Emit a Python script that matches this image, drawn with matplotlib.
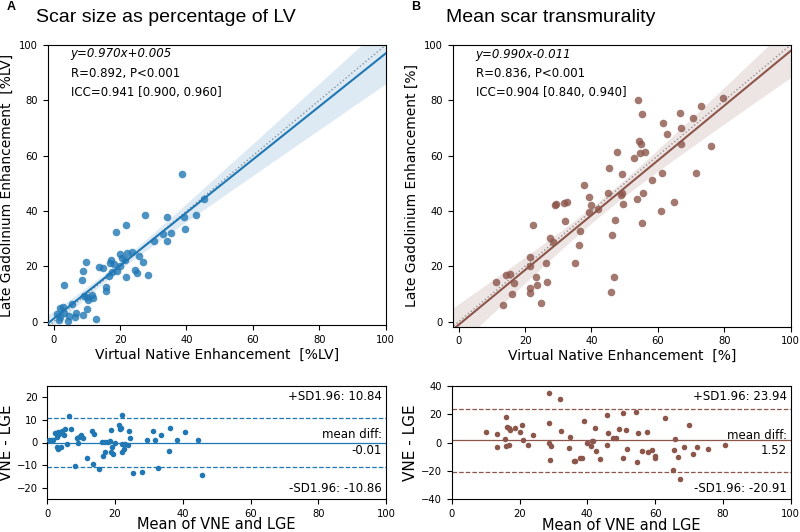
import numpy as np
import matplotlib
matplotlib.use("Agg")
import matplotlib.pyplot as plt

# ---------------- data ----------------
# Panel A: scar size as % LV
vne_a = [38.7, 45.4, 27.5, 34.1, 39.2, 43.0, 18.9, 21.8, 32.8, 35.2, 39.5, 30.2, 34.0,
         20.1, 20.7, 22.1, 23.5, 25.7, 21.6, 17.3, 16.9, 18.1, 19.9, 26.8, 9.8, 8.8,
         13.7, 14.9, 19.1, 24.6, 25.1, 17.6, 16.6, 21.7, 28.4, 8.4, 3.2, 15.9, 15.7,
         9.0, 10.3, 11.5, 11.8, 10.0, 5.5, 1.8, 2.8, 10.1, 6.8, 8.7, 6.4, 4.5, 3.0,
         2.0, 1.5, 4.3, 12.8, 1.0]
lge_a = [53.2, 44.2, 38.6, 38.0, 38.0, 38.6, 32.3, 35.1, 31.6, 32.2, 33.4, 29.2, 29.2,
         24.3, 22.9, 24.7, 25.1, 23.9, 22.3, 22.3, 21.3, 20.8, 20.1, 21.7, 21.4, 18.3,
         19.6, 19.3, 18.4, 18.7, 17.7, 17.8, 16.5, 16.3, 16.7, 15.1, 13.4, 12.4, 11.2,
         9.4, 7.8, 9.6, 8.7, 8.8, 6.3, 4.8, 5.2, 4.6, 3.3, 2.5, 1.8, 2.0, 3.3,
         1.8, 0.6, 0.2, 1.0, 2.8]

ba_mean_a = [0.5, 1.0, 1.8, 2.2, 2.8, 3.2, 3.5, 3.0, 3.3, 3.9, 4.3, 4.9, 5.3, 5.7, 6.5,
             7.0, 8.1, 8.7, 9.2, 9.4, 10.0, 10.6, 11.6, 13.2, 13.8, 13.4, 15.4, 16.1,
             16.9, 16.3, 16.9, 17.9, 18.5, 18.7, 18.8, 19.1, 19.5, 19.9, 21.1, 21.5,
             21.7, 22.0, 22.2, 22.0, 22.6, 23.0, 23.8, 24.0, 24.4, 25.2, 28.1, 29.3,
             31.3, 31.9, 32.7, 33.5, 35.8, 36.2, 38.2, 40.6, 44.5, 45.6]
ba_diff_a = [1.0, 1.3, 1.3, 4.3, 2.5, 4.6, 3.6, -1.9, -3.0, -2.2, 5.0, 3.4, 5.8, -0.7,
             11.7, 5.8, -10.2, 2.2, -0.1, 2.5, 3.1, 1.9, -6.7, 4.9, 3.7, -9.6, -11.7,
             0.3, 0.1, -6.1, -4.3, 0.4, 0.6, 5.5, -4.3, -1.9, -4.9, -0.1, 7.6, 5.8,
             6.4, -0.6, 12.0, -4.0, -2.8, -0.7, -1.3, 5.2, 1.8, -13.5, -13.2, 1.0,
             5.0, 1.3, -11.1, 3.1, -3.9, 6.2, 1.0, 4.6, 1.0, -14.4]
ba_stats_a = {"mean": -0.01, "upper": 10.84, "lower": -10.86}
ann_a = ["y=0.970x+0.005", "R=0.892, P<0.001", "ICC=0.941 [0.900, 0.960]"]

# Panel B: mean scar transmurality
vne_b = [54.0, 55.1, 79.5, 72.9, 66.8, 70.7, 61.4, 66.9, 62.8, 54.2, 54.8, 66.9, 75.9,
         47.6, 54.5, 56.2, 52.7, 45.2, 49.1, 61.2, 71.4, 58.1, 37.7, 39.4, 45.0, 48.9,
         49.2, 55.6, 53.8, 64.9, 29.3, 29.0, 31.6, 32.6, 39.8, 42.0, 39.4, 49.4, 60.8,
         32.1, 47.2, 55.2, 22.3, 36.6, 46.3, 27.4, 28.5, 36.1, 21.4, 21.6, 26.4, 35.1,
         11.2, 14.3, 15.5, 16.7, 23.3, 26.6, 23.6, 21.4, 21.5, 16.1, 13.5, 24.8,
         46.8, 45.9]
lge_b = [80.2, 74.9, 81.0, 77.8, 75.3, 73.5, 71.7, 70.1, 67.9, 65.3, 64.3, 64.3, 63.5,
         61.2, 61.0, 61.4, 59.0, 55.5, 53.3, 53.7, 53.7, 51.3, 49.3, 45.1, 46.4, 45.8,
         46.6, 46.6, 44.3, 43.4, 42.4, 42.2, 43.0, 43.4, 42.2, 40.8, 39.8, 42.4, 40.0,
         36.3, 36.7, 35.8, 34.9, 32.8, 31.2, 30.1, 28.7, 27.7, 23.4, 20.0, 21.1, 21.4,
         14.5, 17.0, 17.3, 14.1, 16.3, 14.2, 13.1, 12.3, 10.2, 10.1, 6.1, 6.7,
         16.1, 10.6]

ba_mean_b = [10.1, 13.3, 13.3, 16.0, 15.8, 16.2, 16.8, 17.2, 16.0, 16.8, 18.6, 20.2,
             20.8, 21.1, 22.6, 24.1, 28.6, 28.6, 28.8, 29.2, 29.0, 31.8, 32.3, 34.5,
             34.9, 36.1, 36.5, 37.7, 38.3, 38.9, 39.8, 41.3, 41.1, 41.8, 42.6, 42.4,
             43.8, 45.7, 46.0, 45.9, 47.7, 48.5, 49.4, 50.6, 50.6, 51.4, 51.6, 54.3,
             54.6, 55.0, 56.1, 57.6, 58.0, 59.1, 60.0, 60.1, 62.8, 65.4, 65.6, 65.9,
             66.9, 67.4, 68.6, 69.9, 71.3, 72.3, 75.6, 80.5]
ba_diff_b = [7.3, 6.1, -3.3, 17.9, 2.4, 11.3, 10.1, 8.9, -2.4, -1.9, 10.4, 7.3, 12.5,
             1.9, -1.9, 5.2, 35.3, 13.6, 0.0, -2.4, -12.2, 30.8, 8.5, -4.0, 4.0, -12.9,
             -12.7, -11.1, -10.6, 15.3, -0.5, 0.9, -2.6, 1.4, -5.6, 10.6, -11.5, 19.5,
             7.1, -1.4, 3.1, 3.1, 9.6, -10.6, 20.9, 8.9, -4.2, 21.4, -13.6, 7.1, -6.1,
             7.5, -6.4, -5.2, -9.4, -10.8, 17.6, -19.3, -5.2, 2.8, -10.4, -25.9, -3.3,
             12.7, -8.2, -2.8, -4.7, -1.4]
ba_stats_b = {"mean": 1.52, "upper": 23.94, "lower": -20.91}
ann_b = ["y=0.990x-0.011", "R=0.836, P<0.001", "ICC=0.904 [0.840, 0.940]"]

# ---------------- style ----------------
BLUE = "#1f77b4"
BROWN = "#8c564b"
TICK_FS = 7.2
plt.rcParams["font.family"] = "DejaVu Sans"

W, H = 800, 532
fig = plt.figure(figsize=(W / 100, H / 100), dpi=100)


def rect(x0, y0, x1, y1):
    return [x0 / W, 1 - y1 / H, (x1 - x0) / W, (y1 - y0) / H]


def reg_panel(ax, x, y, color, xlabel, ylabel, ann, ylim_lo):
    x = np.asarray(x); y = np.asarray(y)
    xlo, xhi = -1.8, 100
    ax.plot([-10, 110], [-10, 110], ls=":", color="#999999", lw=1.0, zorder=1)
    slope, icpt = np.polyfit(x, y, 1)
    xs = np.linspace(xlo, xhi, 200)
    yhat = slope * xs + icpt
    n = len(x)
    resid = y - (slope * x + icpt)
    s = np.sqrt(np.sum(resid ** 2) / (n - 2))
    sxx = np.sum((x - x.mean()) ** 2)
    half = 1.99 * s * np.sqrt(1.0 / n + (xs - x.mean()) ** 2 / sxx)
    ax.fill_between(xs, yhat - half, yhat + half, color=color, alpha=0.15, lw=0, zorder=2)
    ax.plot(xs, yhat, color=color, lw=1.5, zorder=3)
    ax.scatter(x, y, s=30, color=color, alpha=0.8, lw=0, zorder=4)
    ax.set_xlim(xlo, xhi)
    ax.set_ylim(ylim_lo, 100)
    ax.set_xticks(np.arange(0, 101, 20))
    ax.set_yticks(np.arange(0, 101, 20))
    ax.tick_params(labelsize=TICK_FS, length=3.5, width=0.8)
    ax.set_xlabel(xlabel, fontsize=10, labelpad=2)
    ax.set_ylabel(ylabel, fontsize=10, labelpad=4)
    for i, (t, yy) in enumerate(zip(ann, [0.968, 0.899, 0.830])):
        ax.text(0.068, yy, t, transform=ax.transAxes, fontsize=8.5, va="center",
                ha="left", style="italic" if i == 0 else "normal")


def ba_panel(ax, m, d, stats, color, ylim):
    ax.scatter(m, d, s=16, color=color, lw=0, zorder=3)
    ax.axhline(stats["mean"], color=color, lw=0.9)
    ax.axhline(stats["upper"], color=color, lw=0.9, ls="--")
    ax.axhline(stats["lower"], color=color, lw=0.9, ls="--")
    ax.set_xlim(0, 100)
    ax.set_ylim(*ylim)
    ax.set_xticks(np.arange(0, 101, 20))
    ax.tick_params(labelsize=TICK_FS, length=3.5, width=0.8)
    ax.set_xlabel("Mean of VNE and LGE", fontsize=10.5, labelpad=-1)
    ax.set_ylabel("VNE - LGE", fontsize=11, labelpad=2)
    ax.text(0.988, 0.905, "+SD1.96: %.2f" % stats["upper"], transform=ax.transAxes,
            ha="right", va="center", fontsize=8.5)
    ax.text(0.988, 0.5, "mean diff:\n%.2f" % stats["mean"], transform=ax.transAxes,
            ha="right", va="center", fontsize=8.5, multialignment="right")
    ax.text(0.988, 0.095, "-SD1.96: %.2f" % stats["lower"], transform=ax.transAxes,
            ha="right", va="center", fontsize=8.5)


ax1 = fig.add_axes(rect(47.7, 45, 385.7, 325))
reg_panel(ax1, vne_a, lge_a, BLUE, "Virtual Native Enhancement  [%LV]",
          "Late Gadolinium Enhancement  [%LV]", ann_a, -1.2)
ax2 = fig.add_axes(rect(452.7, 45, 790.7, 326.7))
reg_panel(ax2, vne_b, lge_b, BROWN, "Virtual Native Enhancement  [%]",
          "Late Gadolinium Enhancement [%]", ann_b, -1.8)
ax3 = fig.add_axes(rect(47.3, 386, 386, 499))
ba_panel(ax3, ba_mean_a, ba_diff_a, ba_stats_a, BLUE, (-25, 25))
ax3.set_yticks([-20, -10, 0, 10, 20])
ax4 = fig.add_axes(rect(451.7, 386, 790.7, 499.3))
ba_panel(ax4, ba_mean_b, ba_diff_b, ba_stats_b, BROWN, (-40, 40))
ax4.set_yticks([-40, -20, 0, 20, 40])

# panel titles
fig.text(6.7 / W, 1 - 7.5 / H, "A", fontsize=9, fontweight="bold",
         family="Liberation Sans", ha="left", va="center")
fig.text(35.7 / W, 1 - 21.7 / H, "Scar size as percentage of LV", fontsize=14,
         family="Liberation Sans", ha="left", va="baseline")
fig.text(410.7 / W, 1 - 7.5 / H, "B", fontsize=9, fontweight="bold",
         family="Liberation Sans", ha="left", va="center")
fig.text(446 / W, 1 - 21.7 / H, "Mean scar transmurality", fontsize=14,
         family="Liberation Sans", ha="left", va="baseline")

fig.savefig("out.png", dpi=100)
